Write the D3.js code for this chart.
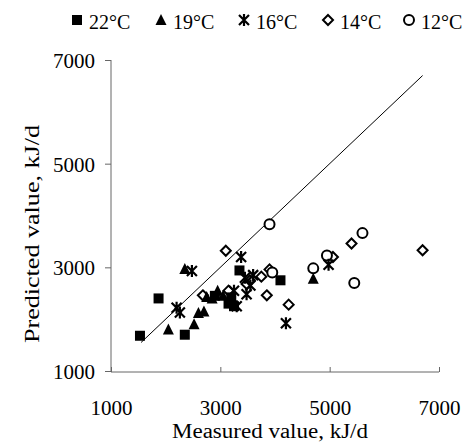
<!DOCTYPE html>
<html>
<head>
<meta charset="utf-8">
<script src="https://cdn.jsdelivr.net/npm/d3@7"></script>
<style>
  html, body { margin: 0; padding: 0; background: #fff; }
  svg { display: block; }
  text { font-family: "Liberation Serif", "Times New Roman", serif; fill: #000; }
</style>
</head>
<body>
<svg id="chart"></svg>
<script>
// ── data: [measured, predicted] in kJ/d ──
const seriesNames = ['22°C', '19°C', '16°C', '14°C', '12°C'];
const seriesShapes = ['square', 'triangle', 'star', 'diamond', 'circle'];

const pts22 = [[1530,1680],[1870,2400],[2350,1700],[3350,2940],[2900,2450],
               [3150,2300],[3200,2420],[3250,2250],[4100,2750]];
const pts19 = [[2050,1800],[2350,2970],[2520,1900],[2600,2120],[2700,2150],
               [2750,2430],[2850,2400],[2950,2550],[3050,2450],[4700,2780]];
const pts16 = [[2200,2220],[2260,2130],[2480,2930],[3380,3200],[3300,2250],
               [3450,2800],[3550,2650],[3600,2850],[3480,2480],[3250,2550],
               [4200,1920],[4980,3050]];
const pts14 = [[3100,3320],[2680,2460],[3150,2550],[3480,2680],[3540,2750],
               [3750,2820],[3850,2460],[3900,2960],[4250,2280],[5060,3200],
               [5400,3460],[6700,3330]];
const pts12 = [[3900,3830],[3950,2900],[4700,2980],[4950,3230],[5600,3660],[5450,2700]];

const allSeries = [pts22, pts19, pts16, pts14, pts12];

const xTicks = [1000, 3000, 5000, 7000];
const yTicks = [1000, 3000, 5000, 7000];
const identityLine = [1550, 6700];   // 1:1 line, start and end

// ── layout ──
const W = 469, H = 443;
const svg = d3.select('#chart').attr('width', W).attr('height', H);

const x = d3.scaleLinear().domain([1000, 7000]).range([111, 439]);
const y = d3.scaleLinear().domain([1000, 7000]).range([371, 60]);

const axisColor = '#666';
const tickFont = '21px';

// Y axis (ticks outward)
const yAx = svg.append('g')
  .attr('transform', 'translate(111,0)')
  .call(d3.axisLeft(y).tickValues(yTicks).tickSize(6).tickPadding(10).tickFormat(d3.format('d')));
yAx.select('.domain').attr('stroke', axisColor).attr('d', `M0,${y(7000)}V${y(1000) + 1}`);
yAx.selectAll('line').attr('stroke', axisColor);
yAx.selectAll('text').style('font-size', tickFont).attr('dy', '0.35em');

// X axis (ticks inward)
const xAx = svg.append('g')
  .attr('transform', `translate(0,${y(1000) + 1})`)
  .call(d3.axisBottom(x).tickValues(xTicks).tickSize(-5).tickFormat(d3.format('d')));
xAx.select('.domain').attr('stroke', axisColor).attr('d', `M${x(1000)},0H${x(7000)}`);
xAx.selectAll('line').attr('stroke', axisColor);
xAx.selectAll('text').style('font-size', tickFont).attr('dy', '0.71em').attr('y', 28);

// axis titles (the scan stretches them a little along the text)
svg.append('text')
  .attr('x', 270).attr('y', 438)
  .attr('text-anchor', 'middle')
  .attr('textLength', 196).attr('lengthAdjust', 'spacingAndGlyphs')
  .style('font-size', '20px')
  .text('Measured value, kJ/d');

svg.append('text')
  .attr('transform', 'translate(39,234) rotate(-90)')
  .attr('text-anchor', 'middle')
  .attr('textLength', 218).attr('lengthAdjust', 'spacingAndGlyphs')
  .style('font-size', '20px')
  .text('Predicted value, kJ/d');

// 1:1 line
svg.append('line')
  .attr('x1', x(identityLine[0])).attr('y1', y(identityLine[0]))
  .attr('x2', x(identityLine[1])).attr('y2', y(identityLine[1]))
  .attr('stroke', '#000').attr('stroke-width', 1);

// markers
function drawMarker(g, shape, cx, cy) {
  if (shape === 'square') {
    g.append('rect').attr('x', cx - 5).attr('y', cy - 5).attr('width', 10).attr('height', 10)
      .attr('fill', '#000');
  } else if (shape === 'triangle') {
    g.append('path').attr('d', `M${cx},${cy - 6}L${cx + 5.5},${cy + 5}L${cx - 5.5},${cy + 5}Z`)
      .attr('fill', '#000');
  } else if (shape === 'star') {
    g.append('path')
      .attr('d', `M${cx - 5},${cy - 5}L${cx + 5},${cy + 5}M${cx + 5},${cy - 5}L${cx - 5},${cy + 5}M${cx},${cy - 6}V${cy + 6}`)
      .attr('stroke', '#000').attr('stroke-width', 2.2).attr('fill', 'none');
  } else if (shape === 'diamond') {
    g.append('path').attr('d', `M${cx},${cy - 5}L${cx + 5},${cy}L${cx},${cy + 5}L${cx - 5},${cy}Z`)
      .attr('fill', '#fff').attr('stroke', '#000').attr('stroke-width', 2);
  } else if (shape === 'circle') {
    g.append('circle').attr('cx', cx).attr('cy', cy).attr('r', 5)
      .attr('fill', '#fff').attr('stroke', '#000').attr('stroke-width', 2);
  }
}

const pointsG = svg.append('g').attr('class', 'points');
// open markers first, filled ones on top
[3, 4, 2, 1, 0].forEach(i => {
  const g = pointsG.append('g').attr('class', 'series-' + i);
  allSeries[i].forEach(([mx, pv]) => drawMarker(g, seriesShapes[i], x(mx), y(pv)));
});

// legend
const legendX = [77, 161, 244, 328, 409];
const legend = svg.append('g').attr('class', 'legend');
seriesNames.forEach((name, i) => {
  const g = legend.append('g');
  drawMarker(g, seriesShapes[i], legendX[i], 20);
  g.append('text')
    .attr('x', legendX[i] + 12).attr('y', 29)
    .style('font-size', '20px')
    .text(name);
});
</script>
</body>
</html>
